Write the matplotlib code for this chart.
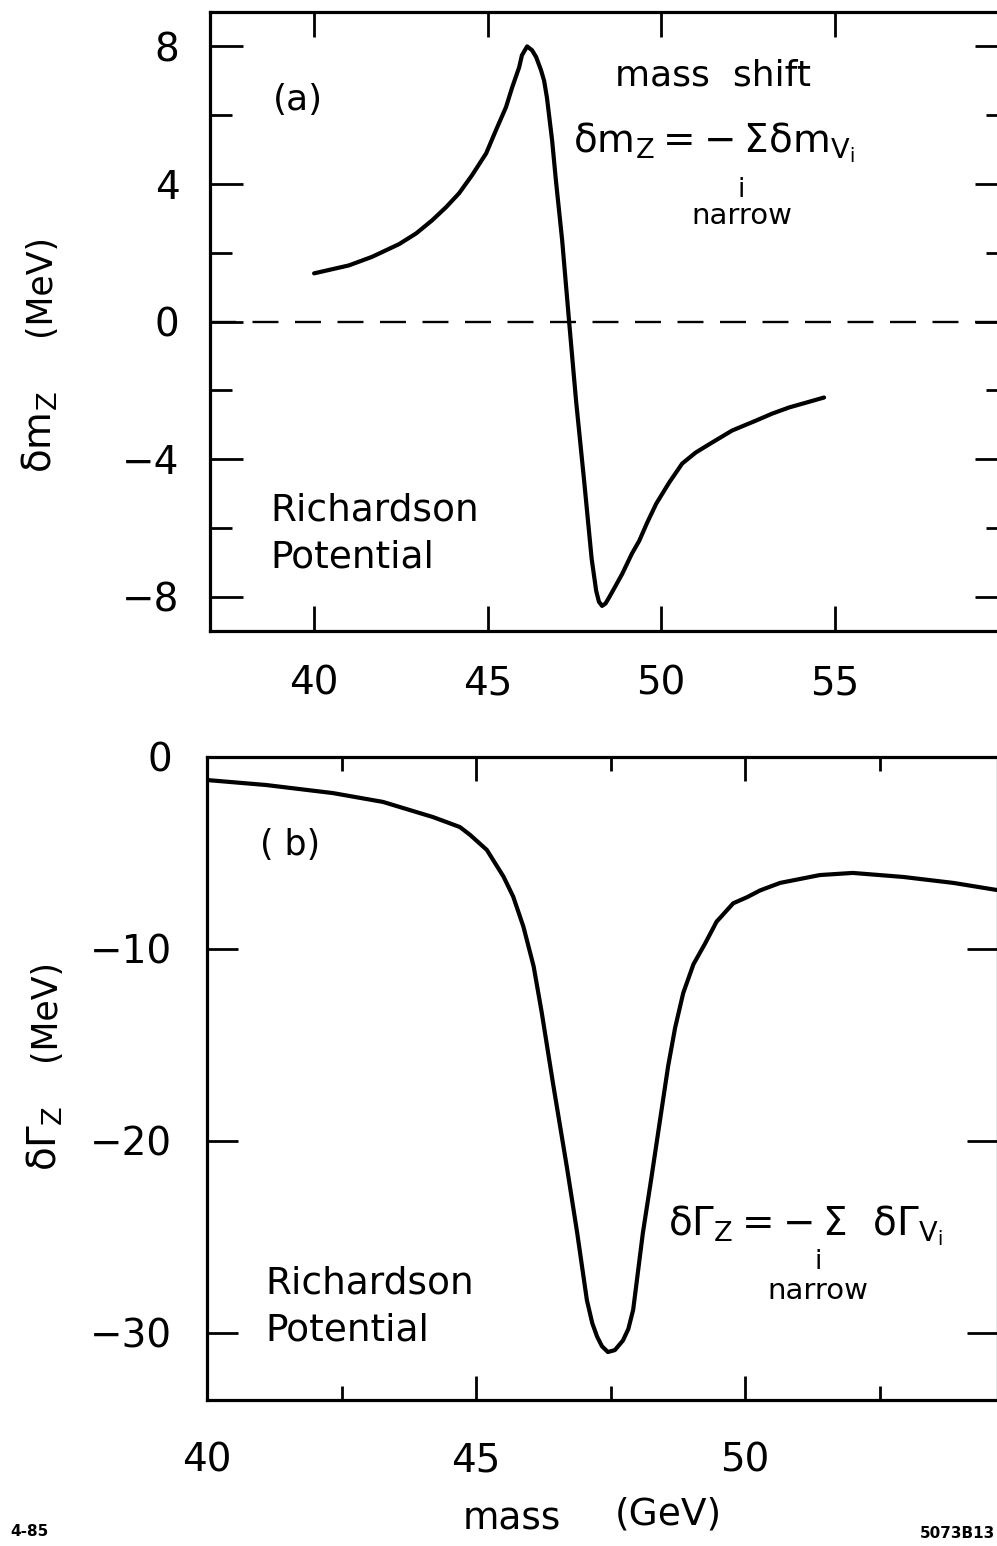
import numpy as np
import matplotlib
matplotlib.use('Agg')
import matplotlib.pyplot as plt

# *****************************************************************************

# (a) mass shift, Richardson potential
MASS_A = [40.0, 41.0, 41.67, 42.45, 42.94, 43.4, 43.8, 44.18, 44.55, 44.96,
          45.24, 45.53, 45.71, 45.91, 45.99, 46.14, 46.28, 46.4, 46.54, 46.63,
          46.71, 46.86, 46.97, 47.15, 47.35, 47.55, 47.78, 48.0, 48.13, 48.21,
          48.3, 48.4, 48.5, 48.65, 48.88, 49.16, 49.37, 49.6, 49.86, 50.23,
          50.61, 51.0, 51.47, 52.05, 52.74, 53.2, 53.69, 54.18, 54.7]
DM_A = [1.4, 1.63, 1.88, 2.25, 2.56, 2.94, 3.32, 3.73, 4.25, 4.89,
        5.56, 6.23, 6.81, 7.39, 7.74, 8.0, 7.89, 7.69, 7.31, 7.0,
        6.52, 5.27, 4.1, 2.36, 0.0, -2.3, -4.6, -6.9, -7.83, -8.15,
        -8.27, -8.2, -8.03, -7.76, -7.34, -6.75, -6.38, -5.85, -5.30, -4.69,
        -4.13, -3.81, -3.52, -3.17, -2.88, -2.68, -2.50, -2.36, -2.21]

# (b) width shift, Richardson potential
MASS_B = [40.0, 41.1, 42.34, 43.27, 44.2, 44.7, 44.89, 45.2, 45.51, 45.69,
          45.88, 46.07, 46.22, 46.43, 46.69, 46.88, 47.06, 47.16, 47.25, 47.34,
          47.45, 47.58, 47.73, 47.83, 47.92, 48.1, 48.26, 48.42, 48.57, 48.7,
          48.85, 49.04, 49.26, 49.47, 49.78, 50.04, 50.28, 50.65, 51.39, 52.0,
          52.94, 53.87, 54.68]
DG_B = [-1.2, -1.46, -1.88, -2.34, -3.13, -3.65, -4.06, -4.84, -6.23, -7.27,
        -8.84, -10.9, -13.3, -17.0, -21.4, -24.8, -28.3, -29.5, -30.2, -30.7,
        -31.0, -30.9, -30.4, -29.8, -28.8, -24.8, -21.9, -18.9, -16.1, -14.1,
        -12.3, -10.8, -9.7, -8.58, -7.62, -7.3, -6.95, -6.56, -6.15, -6.04,
        -6.25, -6.56, -6.93]

YTICKS_A = [-8, -4, 0, 4, 8]
YMINOR_A = [-6, -2, 2, 6]
XTICKS_A = [40, 45, 50, 55]
YTICKS_B = [0, -10, -20, -30]
XTICKS_B = [40, 45, 50]
XMINOR_B = [42.5, 47.5, 52.5]

# *****************************************************************************


def make_fig():

    plt.rcParams['font.family'] = ['DejaVu Sans']
    plt.rcParams['mathtext.fontset'] = 'dejavusans'
    plt.rcParams['mathtext.default'] = 'regular'

    W, H = 997, 1546
    fig01 = plt.figure(figsize=(W/100, H/100), dpi=100)

    def px_box(x0, x1, y0, y1):
        return [x0/W, (H-y1)/H, (x1-x0)/W, (y1-y0)/H]

    def ftxt(x, y, s, **kw):
        # text placed by pixel position, origin top-left
        fig01.text(x/W, 1-y/H, s, **kw)

    lw_ax = 2.3

    # ---------------- panel (a)
    axa = fig01.add_axes(px_box(210, 1008, 12, 631))
    axa.plot(MASS_A, DM_A, color='k', lw=3.0, solid_joinstyle='round',
             solid_capstyle='round')
    axa.axhline(0, color='k', lw=1.7, linestyle=(0, (11, 7)))
    axa.set_xlim(37, 60)
    axa.set_ylim(-9, 9)
    axa.set_xticks(XTICKS_A)
    axa.set_yticks(YTICKS_A)
    axa.set_yticks(YMINOR_A, minor=True)
    axa.set_yticklabels(['\u22128', '\u22124', '0', '4', '8'])
    axa.tick_params(axis='both', which='both', direction='in', top=True,
                    right=True, width=2.0, labelsize=28, colors='k')
    axa.tick_params(axis='y', which='major', length=24, pad=22)
    axa.tick_params(axis='y', which='minor', length=16)
    axa.tick_params(axis='x', which='major', length=18, pad=24)

    ftxt(298, 100, '(a)', fontsize=26, ha='center', va='center')
    ftxt(270, 534, 'Richardson\nPotential', fontsize=27, ha='left',
         va='center', linespacing=1.4)
    ftxt(713, 75, 'mass  shift', fontsize=26, ha='center', va='center')
    ftxt(714, 143, r'$\delta m_Z{=}\!-\Sigma\delta m_{V_i}$', fontsize=28,
         ha='center', va='center')
    ftxt(741, 190, 'i', fontsize=19, ha='center', va='center')
    ftxt(742, 216, 'narrow', fontsize=21, ha='center', va='center')

    # y label (a)
    ftxt(40, 285, '(MeV)', fontsize=25, rotation=90, ha='center',
         va='center')
    ftxt(40, 432, r'$\delta m_Z$', fontsize=28, rotation=90, ha='center',
         va='center')

    # ---------------- panel (b)
    axb = fig01.add_axes(px_box(207, 998, 757, 1400))
    axb.plot(MASS_B, DG_B, color='k', lw=3.0, solid_joinstyle='round',
             solid_capstyle='round')
    axb.set_xlim(40, 54.7)
    axb.set_ylim(-33.5, 0)
    axb.set_xticks(XTICKS_B)
    axb.set_xticks(XMINOR_B, minor=True)
    axb.set_yticks(YTICKS_B)
    axb.set_yticklabels(['0', '\u221210', '\u221220', '\u221230'])
    axb.tick_params(axis='both', which='both', direction='in', top=True,
                    right=True, width=2.0, labelsize=28, colors='k')
    axb.tick_params(axis='y', which='major', length=22, pad=25)
    axb.tick_params(axis='x', which='major', length=17, pad=30)
    axb.tick_params(axis='x', which='minor', length=10)

    ftxt(290, 845, '( b)', fontsize=25, ha='center', va='center')
    ftxt(265, 1307, 'Richardson\nPotential', fontsize=27, ha='left',
         va='center', linespacing=1.4)
    ftxt(805, 1226, r'$\delta\Gamma_Z{=}\!-\Sigma\ \ \delta\Gamma_{V_i}$',
         fontsize=28, ha='center', va='center')
    ftxt(818, 1262, 'i', fontsize=19, ha='center', va='center')
    ftxt(818, 1291, 'narrow', fontsize=21, ha='center', va='center')

    # y label (b)
    ftxt(45, 1010, '(MeV)', fontsize=25, rotation=90, ha='center',
         va='center')
    ftxt(45, 1138, r'$\delta\Gamma_Z$', fontsize=28, rotation=90,
         ha='center', va='center')

    # x label
    ftxt(512, 1520, 'mass', fontsize=27, ha='center', va='center')
    ftxt(668, 1515, '(GeV)', fontsize=27, ha='center', va='center')

    # figure codes
    ftxt(10, 1532, '4-85', fontsize=11, ha='left', va='center',
         fontweight='bold')
    ftxt(995, 1533, '5073B13', fontsize=11, ha='right', va='center',
         fontweight='bold')

    for ax in (axa, axb):
        for sp in ax.spines.values():
            sp.set_linewidth(lw_ax)

    plt.savefig('out.png', dpi=100)
    plt.close()

    return None

# *****************************************************************************


if (__name__ == "__main__"):

    make_fig()

# *****************************************************************************
